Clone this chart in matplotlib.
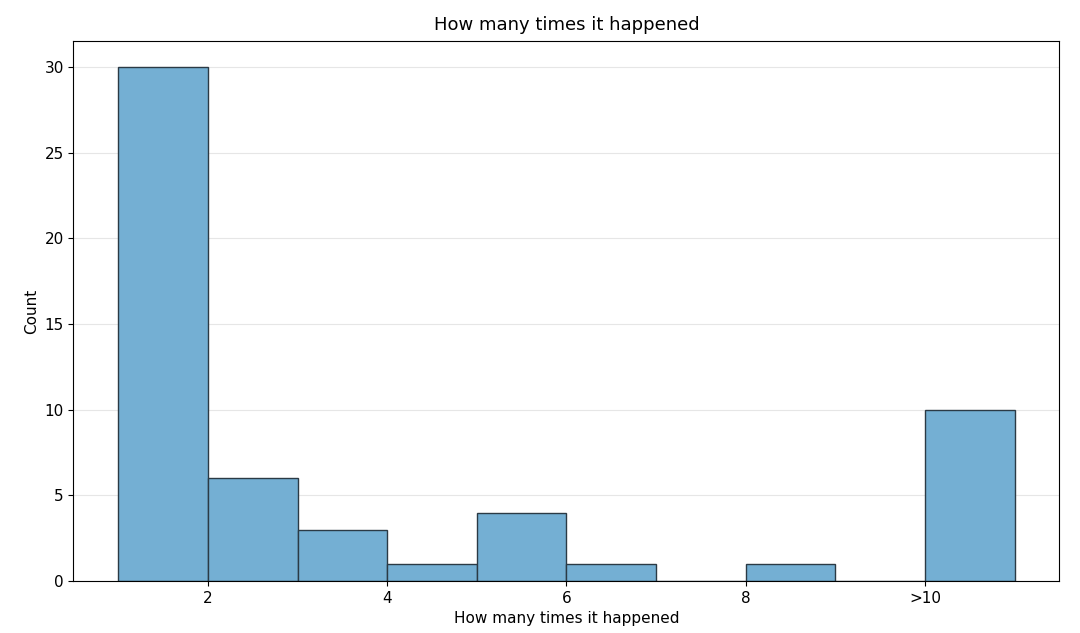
import numpy as np
import matplotlib
matplotlib.use('Agg')
import matplotlib.pyplot as plt

# counts per bin, bins are [1,2), [2,3), ... [10,11) where last one is ">10"
bin_edges = [1, 2, 3, 4, 5, 6, 7, 8, 9, 10, 11]
counts = [30, 6, 3, 1, 4, 1, 0, 1, 0, 10]
tick_pos = [2, 4, 6, 8, 10]
tick_labels = ['2', '4', '6', '8', '>10']

fig, ax = plt.subplots(figsize=(10.8, 6.33), dpi=100)
ax.hist(bin_edges[:-1], bins=bin_edges, weights=counts,
        color='#74afd3', edgecolor='#2b3a45', linewidth=1.0, zorder=2)
ax.set_xticks(tick_pos)
ax.set_xticklabels(tick_labels)
ax.set_xlim(0.5, 11.5)
ax.grid(axis='y', color='#e6e6e6', linewidth=0.8, zorder=0)
ax.set_axisbelow(True)
ax.set_title("How many times it happened", fontsize=13, pad=8)
ax.set_xlabel("How many times it happened", fontsize=11)
ax.set_ylabel("Count", fontsize=11)
ax.tick_params(labelsize=11)

plt.subplots_adjust(left=0.068, right=0.981, top=0.935, bottom=0.082)
plt.savefig("out.png")
